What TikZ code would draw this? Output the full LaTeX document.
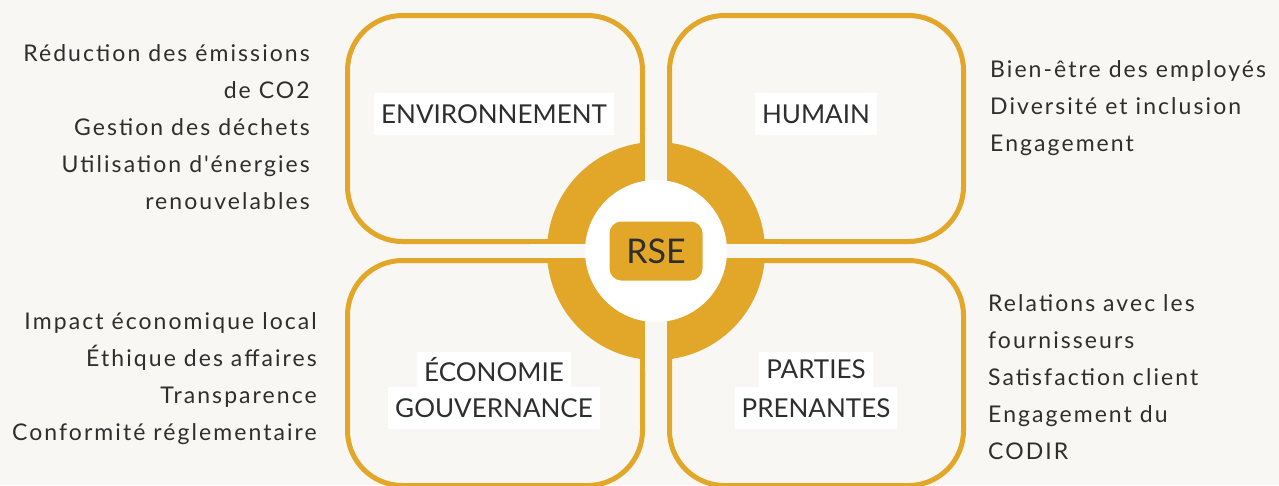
\documentclass[tikz,border=0pt]{standalone}
\usepackage{fontspec}
\setmainfont{Lato}
\newfontfamily\listfont[LetterSpace=9]{Lato}
\usetikzlibrary{positioning}
\definecolor{rsegold}{HTML}{E2A628}
\definecolor{paper}{HTML}{F8F7F3}
\definecolor{ink}{HTML}{2E2E2E}
\tikzset{
  quadbox/.style={draw=rsegold, line width=5pt, fill=paper, rounded corners=55pt, inner sep=0pt},
  tag/.style={fill=white, text=ink, font=\fontsize{26}{30}\selectfont, inner xsep=7pt, minimum height=42pt},
  pointlist/.style={text=ink, font=\listfont\fontsize{23}{37}\selectfont, inner sep=0pt},
}
\begin{document}
\begin{tikzpicture}[x=1pt,y=-1pt]
   \fill[paper] (0,0) rectangle (1279,485);
   \useasboundingbox (0,0) rectangle (1279,485);

   % the four quadrants
   \node (env) [quadbox, minimum width=295pt, minimum height=226pt] at (495,128.5) {};
   \node (hum) [quadbox, minimum width=294pt, minimum height=226pt] at (816.5,128.5) {};
   \node (eco) [quadbox, minimum width=295pt, minimum height=225pt] at (495,373) {};
   \node (pp)  [quadbox, minimum width=294pt, minimum height=225pt] at (816.5,373) {};

   % ring round the centre
   \coordinate (c) at (656,251);
   \fill[rsegold] (c) circle (109);
   \fill[paper] (645,130) rectangle (667,372);
   \fill[paper] (530,244) rectangle (782,258);
   \fill[white] (c) circle (71);
   \node (rse) [fill=rsegold, rounded corners=12pt, minimum width=93pt, minimum height=59pt,
                text=ink, font=\fontsize{34}{40}\selectfont] at (c) {RSE};

   % quadrant titles
   \node (envtag) [tag] at (494,114) {ENVIRONNEMENT};
   \node (humtag) [tag] at (816,114) {HUMAIN};
   \node (ecotag) [tag, minimum height=35pt] at (494,369.5) {ÉCONOMIE};
   \node (govtag) [tag, below=0pt of ecotag] {GOUVERNANCE};
   \node (pptag)  [tag, minimum height=35pt] at (816,369.5) {PARTIES};
   \node (pptag2) [tag, below=0pt of pptag] {PRENANTES};

   % lists
   \node (envlist) [pointlist, align=right, anchor=east] at (310,127.5)
     {Réduction des émissions\\de CO2\\Gestion des déchets\\Utilisation d'énergies\\renouvelables};
   \node (ecolist) [pointlist, align=right, anchor=east] at (317,378.5)
     {Impact économique local\\Éthique des affaires\\Transparence\\Conformité réglementaire};
   \node (humlist) [pointlist, align=left, anchor=west] at (990,108.5)
     {Bien-être des employés\\Diversité et inclusion\\Engagement};
   \node (pplist) [pointlist, align=left, anchor=west] at (988,377.5)
     {Relations avec les\\fournisseurs\\Satisfaction client\\Engagement du\\CODIR};
\end{tikzpicture}
\end{document}
